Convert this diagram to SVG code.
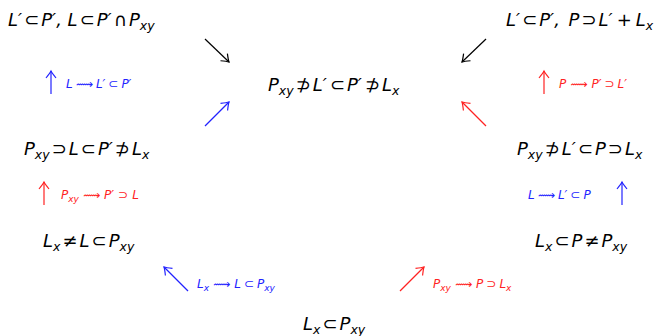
<svg xmlns="http://www.w3.org/2000/svg" width="657" height="336" viewBox="0 0 657 336">
<style>
text{font-family:"DejaVu Sans",sans-serif;font-style:italic}
.n{font-size:18px;fill:#000}
.s{font-size:12.5px}
.l{font-size:12px}
.ls{font-size:9px}
.u{font-style:normal}
.b{fill:#2222ff}
.r{fill:#ff2222}
.k{stroke:#000;fill:none;stroke-width:1.2}
.bs{stroke:#2222ff;fill:none;stroke-width:1.2}
.rs{stroke:#ff2222;fill:none;stroke-width:1.2}
</style>
<defs>
<marker id="ak" viewBox="-8 -6 10 12" markerWidth="10" markerHeight="12" refX="0" refY="0" orient="auto" markerUnits="userSpaceOnUse"><path d="M-7,-5 Q-2,-1 0,0 Q-2,1 -7,5" fill="none" stroke="#000" stroke-width="1.2"/></marker>
<marker id="ab" viewBox="-8 -6 10 12" markerWidth="10" markerHeight="12" refX="0" refY="0" orient="auto" markerUnits="userSpaceOnUse"><path d="M-7,-5 Q-2,-1 0,0 Q-2,1 -7,5" fill="none" stroke="#2222ff" stroke-width="1.2"/></marker>
<marker id="ar" viewBox="-8 -6 10 12" markerWidth="10" markerHeight="12" refX="0" refY="0" orient="auto" markerUnits="userSpaceOnUse"><path d="M-7,-5 Q-2,-1 0,0 Q-2,1 -7,5" fill="none" stroke="#ff2222" stroke-width="1.2"/></marker>
</defs>
<g id="n1"><text class="n" x="8" y="26">L′<tspan class="u" dx="2">⊂</tspan><tspan dx="2">P′, L</tspan><tspan class="u" dx="2">⊂</tspan><tspan dx="2">P′</tspan><tspan class="u" dx="2">∩</tspan><tspan dx="2">P</tspan><tspan class="s" dy="4">xy</tspan></text></g>
<g id="n2"><text class="n" x="506" y="26">L′<tspan class="u" dx="2">⊂</tspan><tspan dx="2">P′,</tspan><tspan dx="3"> P</tspan><tspan class="u" dx="2">⊃</tspan><tspan dx="2">L′</tspan><tspan class="u" dx="4">+</tspan><tspan dx="4">L</tspan><tspan class="s" dy="4">x</tspan></text></g>
<g id="n3"><text class="n" x="268" y="91">P<tspan class="s" dy="4">xy</tspan><tspan class="u" dx="2" dy="-4">⊅</tspan><tspan dx="2">L′</tspan><tspan class="u" dx="3">⊂</tspan><tspan dx="2">P′</tspan><tspan class="u" dx="3">⊅</tspan><tspan dx="2">L</tspan><tspan class="s" dy="4">x</tspan></text></g>
<g id="n4"><text class="n" x="24" y="155">P<tspan class="s" dy="4">xy</tspan><tspan class="u" dx="2" dy="-4">⊃</tspan><tspan dx="2">L</tspan><tspan class="u" dx="2">⊂</tspan><tspan dx="2">P′</tspan><tspan class="u" dx="2">⊅</tspan><tspan dx="2">L</tspan><tspan class="s" dy="4">x</tspan></text></g>
<g id="n5"><text class="n" x="517" y="155">P<tspan class="s" dy="4">xy</tspan><tspan class="u" dx="2" dy="-4">⊅</tspan><tspan dx="2">L′</tspan><tspan class="u" dx="2">⊂</tspan><tspan dx="2">P</tspan><tspan class="u" dx="2">⊃</tspan><tspan dx="2">L</tspan><tspan class="s" dy="4">x</tspan></text></g>
<g id="n6"><text class="n" x="43" y="247">L<tspan class="s" dy="4">x</tspan><tspan class="u" dx="2" dy="-4">≠</tspan><tspan dx="2">L</tspan><tspan class="u" dx="2">⊂</tspan><tspan dx="2">P</tspan><tspan class="s" dy="4">xy</tspan></text></g>
<g id="n7"><text class="n" x="535" y="247">L<tspan class="s" dy="4">x</tspan><tspan class="u" dx="2" dy="-4">⊂</tspan><tspan dx="2">P</tspan><tspan class="u" dx="2">≠</tspan><tspan dx="2">P</tspan><tspan class="s" dy="4">xy</tspan></text></g>
<g id="n8"><text class="n" x="303" y="330">L<tspan class="s" dy="4">x</tspan><tspan class="u" dx="2" dy="-4">⊂</tspan><tspan dx="2">P</tspan><tspan class="s" dy="4">xy</tspan></text></g>
<g id="connectors">
<line class="k" x1="205" y1="39" x2="229" y2="62" marker-end="url(#ak)"/>
<line class="k" x1="486" y1="39" x2="462" y2="62" marker-end="url(#ak)"/>
<line class="bs" x1="51" y1="94" x2="51" y2="71" marker-end="url(#ab)"/>
<line class="rs" x1="544" y1="94" x2="544" y2="71" marker-end="url(#ar)"/>
<line class="bs" x1="205" y1="126" x2="229" y2="102" marker-end="url(#ab)"/>
<line class="rs" x1="486" y1="126" x2="462" y2="102" marker-end="url(#ar)"/>
<line class="rs" x1="44" y1="205" x2="44" y2="182" marker-end="url(#ar)"/>
<line class="bs" x1="622" y1="205" x2="622" y2="182" marker-end="url(#ab)"/>
<line class="bs" x1="188" y1="291" x2="164" y2="267" marker-end="url(#ab)"/>
<line class="rs" x1="400" y1="291" x2="424" y2="267" marker-end="url(#ar)"/>
<text class="l b" x="66" y="88">L<tspan class="u" dx="3">⟿</tspan><tspan dx="3">L′</tspan><tspan class="u" dx="3">⊂</tspan><tspan dx="3">P′</tspan></text>
<text class="l r" x="559" y="88">P<tspan class="u" dx="4">⟿</tspan><tspan dx="4">P′</tspan><tspan class="u" dx="3">⊃</tspan><tspan dx="3">L′</tspan></text>
<text class="l r" x="61" y="199">P<tspan class="ls" dy="3">xy</tspan><tspan class="u" dx="4" dy="-3">⟿</tspan><tspan dx="4">P′</tspan><tspan class="u" dx="4">⊃</tspan><tspan dx="4">L</tspan></text>
<text class="l b" x="528" y="199">L<tspan class="u" dx="3">⟿</tspan><tspan dx="3">L′</tspan><tspan class="u" dx="3">⊂</tspan><tspan dx="3">P</tspan></text>
<text class="l b" x="197" y="288">L<tspan class="ls" dy="3">x</tspan><tspan class="u" dx="4" dy="-3">⟿</tspan><tspan dx="4">L</tspan><tspan class="u" dx="3">⊂</tspan><tspan dx="3">P</tspan><tspan class="ls" dy="3">xy</tspan></text>
<text class="l r" x="433" y="288">P<tspan class="ls" dy="3">xy</tspan><tspan class="u" dx="4" dy="-3">⟿</tspan><tspan dx="4">P</tspan><tspan class="u" dx="3">⊃</tspan><tspan dx="3">L</tspan><tspan class="ls" dy="3">x</tspan></text>
</g>
</svg>
